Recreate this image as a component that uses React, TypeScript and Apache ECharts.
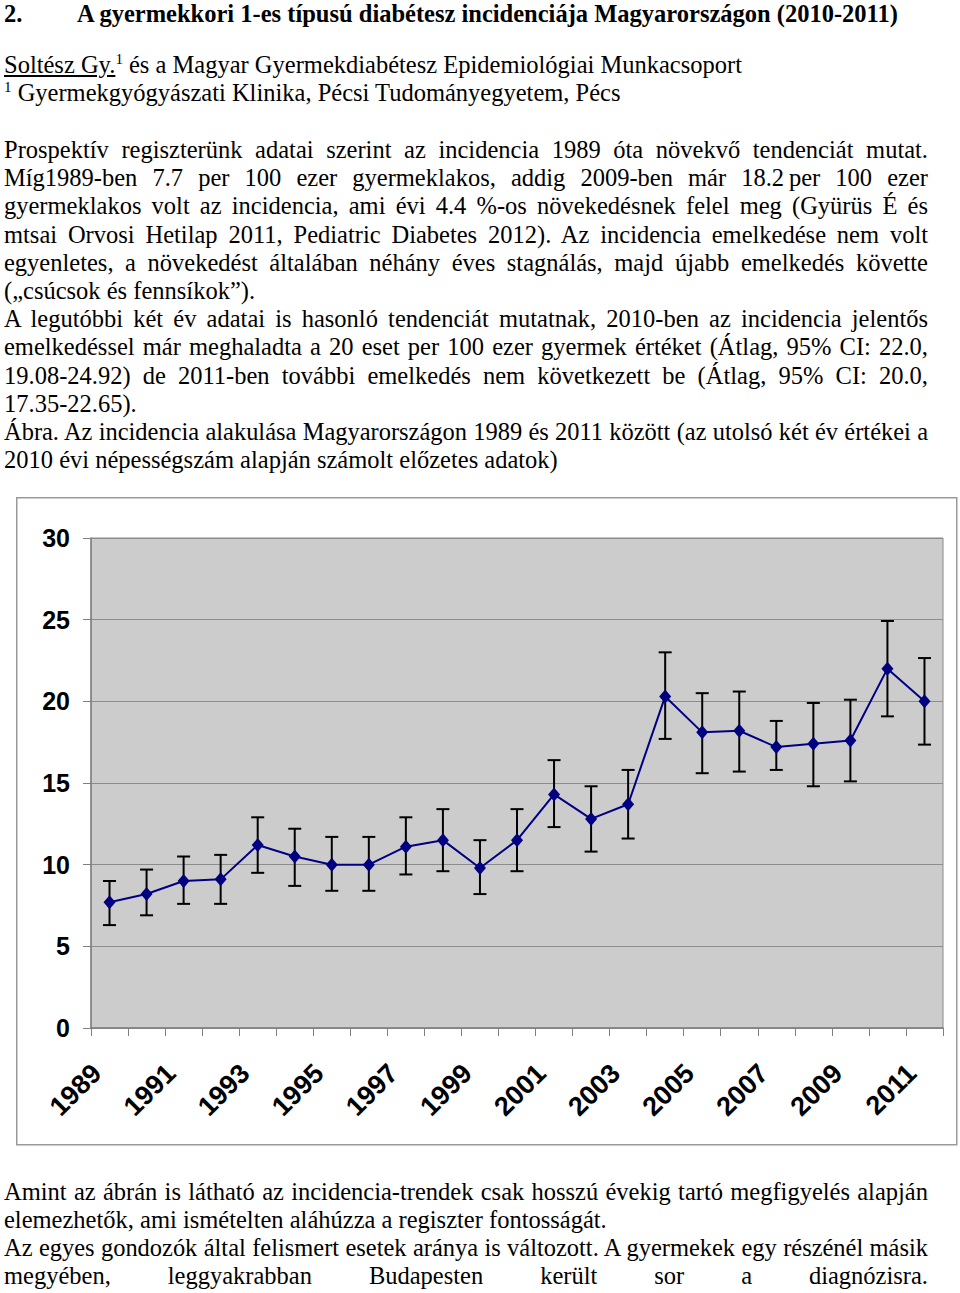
import React, { useEffect, useLayoutEffect, useRef } from "react";
import * as echarts from "echarts";

const years = ["1989","1990","1991","1992","1993","1994","1995","1996","1997","1998","1999","2000","2001","2002","2003","2004","2005","2006","2007","2008","2009","2010","2011"];
const incidence = [7.7, 8.2, 9.0, 9.1, 11.2, 10.5, 10.0, 10.0, 11.1, 11.5, 9.8, 11.5, 14.3, 12.8, 13.7, 20.3, 18.1, 18.2, 17.2, 17.4, 17.6, 22.0, 20.0];
const ciUpper = [9.0, 9.7, 10.5, 10.6, 12.9, 12.2, 11.7, 11.7, 12.9, 13.4, 11.5, 13.4, 16.4, 14.8, 15.8, 23.0, 20.5, 20.6, 18.8, 19.9, 20.1, 24.92, 22.65];
const ciLower = [6.3, 6.9, 7.6, 7.6, 9.5, 8.7, 8.4, 8.4, 9.4, 9.6, 8.2, 9.6, 12.3, 10.8, 11.6, 17.7, 15.6, 15.7, 15.8, 14.8, 15.1, 19.08, 17.35];
const yTicks = { min: 0, max: 30, interval: 5 };

const topLines: { text: string; justify: boolean; y: number }[] = [
  { text: "Prospektív regiszterünk adatai szerint az incidencia 1989 óta növekvő tendenciát mutat.", justify: true, y: 151 },
  { text: "Míg1989-ben 7.7 per 100 ezer gyermeklakos, addig 2009-ben már 18.2\u2009per 100 ezer", justify: true, y: 179 },
  { text: "gyermeklakos volt az incidencia, ami évi 4.4 %-os növekedésnek felel meg (Gyürüs É és", justify: true, y: 207 },
  { text: "mtsai Orvosi Hetilap 2011, Pediatric Diabetes 2012). Az incidencia emelkedése nem volt", justify: true, y: 236 },
  { text: "egyenletes, a növekedést általában néhány éves stagnálás, majd újabb emelkedés követte", justify: true, y: 264 },
  { text: "(„csúcsok és fennsíkok”).", justify: false, y: 292 },
  { text: "A legutóbbi két év adatai is hasonló tendenciát mutatnak, 2010-ben az incidencia jelentős", justify: true, y: 320 },
  { text: "emelkedéssel már meghaladta a 20 eset per 100 ezer gyermek értéket (Átlag, 95% CI: 22.0,", justify: true, y: 348 },
  { text: "19.08-24.92) de 2011-ben további emelkedés nem következett be (Átlag, 95% CI: 20.0,", justify: true, y: 377 },
  { text: "17.35-22.65).", justify: false, y: 405 },
  { text: "Ábra. Az incidencia alakulása Magyarországon 1989 és 2011 között (az utolsó két év értékei a", justify: true, y: 433 },
  { text: "2010 évi népességszám alapján számolt előzetes adatok)", justify: false, y: 461 },
];

const bottomLines: { text: string; justify: boolean; y: number }[] = [
  { text: "Amint az ábrán is látható az incidencia-trendek csak hosszú évekig tartó megfigyelés alapján", justify: true, y: 1193 },
  { text: "elemezhetők, ami ismételten aláhúzza a regiszter fontosságát.", justify: false, y: 1221 },
  { text: "Az egyes gondozók által felismert esetek aránya is változott. A gyermekek egy részénél másik", justify: true, y: 1249 },
  { text: "megyében, leggyakrabban Budapesten került sor a diagnózisra.", justify: true, y: 1277 },
];

const FONT = "'Liberation Serif', 'Times New Roman', serif";
const FS = 24.5;
const LINE_W = 924;

function Line({ text, justify, y }: { text: string; justify: boolean; y: number }) {
  const ref = useRef<HTMLDivElement>(null);
  useLayoutEffect(() => {
    const el = ref.current;
    if (!el) return;
    const canvas = document.createElement("canvas");
    const ctx = canvas.getContext("2d");
    if (!ctx) return;
    ctx.font = `${FS}px ${FONT}`;
    const w = ctx.measureText(text).width;
    if (w > LINE_W) {
      el.style.width = w + 1 + "px";
      el.style.transform = `scaleX(${LINE_W / (w + 1)})`;
      el.style.transformOrigin = "0 0";
    }
  }, [text]);
  return (
    <div
      ref={ref}
      style={{
        position: "absolute",
        left: 4,
        top: y - 15,
        width: LINE_W,
        height: 28,
        lineHeight: "28px",
        fontFamily: FONT,
        fontSize: FS,
        whiteSpace: "nowrap",
        textAlign: justify ? "justify" : "left",
        textAlignLast: justify ? "justify" : "left",
        color: "#000",
      } as React.CSSProperties}
    >
      {text}
    </div>
  );
}

function Chart() {
  const ref = useRef<HTMLDivElement>(null);
  useEffect(() => {
    if (!ref.current) return;
    const chart = echarts.init(ref.current, undefined, { renderer: "svg" });
    const errData = years.map((_, i) => [i, ciLower[i], ciUpper[i]]);
    chart.setOption({
      animation: false,
      backgroundColor: "#ffffff",
      graphic: [
        {
          type: "rect",
          shape: { x: 0.75, y: 0.75, width: 940, height: 647 },
          style: { fill: "none", stroke: "#9a9a9a", lineWidth: 1.5 },
          silent: true,
        },
      ],
      grid: {
        left: 75,
        top: 41,
        right: 15,
        bottom: 118,
        show: true,
        backgroundColor: "#cccccc",
        borderColor: "#8a8a8a",
        borderWidth: 1,
      },
      xAxis: {
        type: "category",
        data: years,
        boundaryGap: true,
        axisLine: { show: true, lineStyle: { color: "#808080", width: 1.5 } },
        axisTick: { show: true, interval: 0, length: 8, lineStyle: { color: "#808080" } },
        axisLabel: {
          interval: 1,
          rotate: 45,
          margin: 28,
          padding: [0, 18, 0, 0],
          fontSize: 27,
          fontWeight: "bold",
          fontFamily: "'Liberation Sans', Arial, sans-serif",
          color: "#000",
        },
        splitLine: { show: false },
      },
      yAxis: {
        type: "value",
        min: yTicks.min,
        max: yTicks.max,
        interval: yTicks.interval,
        axisLine: { show: true, lineStyle: { color: "#808080", width: 1.5 } },
        axisTick: { show: true, length: 8, lineStyle: { color: "#808080" } },
        axisLabel: {
          margin: 21,
          fontSize: 25,
          fontWeight: "bold",
          fontFamily: "'Liberation Sans', Arial, sans-serif",
          color: "#000",
        },
        splitLine: { show: true, lineStyle: { color: "#8c8c8c", width: 1 } },
      },
      series: [
        {
          type: "custom",
          name: "CI",
          data: errData,
          encode: { x: 0, y: [1, 2] },
          z: 2,
          renderItem: (params: any, api: any) => {
            const idx = api.value(0);
            const lo = api.coord([idx, api.value(1)]);
            const hi = api.coord([idx, api.value(2)]);
            const hw = 6.5;
            const style = { stroke: "#000", lineWidth: 2 };
            return {
              type: "group",
              children: [
                { type: "line", shape: { x1: hi[0], y1: hi[1], x2: lo[0], y2: lo[1] }, style },
                { type: "line", shape: { x1: hi[0] - hw, y1: hi[1], x2: hi[0] + hw, y2: hi[1] }, style },
                { type: "line", shape: { x1: lo[0] - hw, y1: lo[1], x2: lo[0] + hw, y2: lo[1] }, style },
              ],
            };
          },
        },
        {
          type: "line",
          name: "Incidencia",
          data: incidence,
          z: 3,
          symbol: "diamond",
          symbolSize: [12, 14],
          itemStyle: { color: "#000080" },
          lineStyle: { color: "#000080", width: 2 },
        },
      ],
    });
    return () => chart.dispose();
  }, []);
  return (
    <div
      ref={ref}
      style={{ position: "absolute", left: 16, top: 497, width: 942, height: 649 }}
    />
  );
}

export default function App() {
  return (
    <div style={{ position: "absolute", left: 0, top: 0, width: 960, height: 1293, background: "#fff", overflow: "hidden" }}>
      <div
        style={{
          position: "absolute",
          left: 4,
          top: 0,
          lineHeight: "normal",
          fontFamily: FONT,
          fontSize: FS,
          fontWeight: "bold",
          whiteSpace: "nowrap",
        }}
      >
        <span style={{ display: "inline-block", width: 73 }}>2.</span>
        A gyermekkori 1-es típusú diabétesz incidenciája Magyarországon (2010-2011)
      </div>
      <div
        style={{
          position: "absolute",
          left: 4,
          top: 51,
          height: 28,
          lineHeight: "28px",
          fontFamily: FONT,
          fontSize: FS,
          whiteSpace: "nowrap",
        }}
      >
        <span style={{ textDecoration: "underline" }}>Soltész Gy.</span>
        <sup style={{ fontSize: 15, lineHeight: 0 }}>1</sup> és a Magyar Gyermekdiabétesz Epidemiológiai Munkacsoport
      </div>
      <div
        style={{
          position: "absolute",
          left: 4,
          top: 79,
          height: 28,
          lineHeight: "28px",
          fontFamily: FONT,
          fontSize: FS,
          whiteSpace: "nowrap",
        }}
      >
        <sup style={{ fontSize: 15, lineHeight: 0 }}>1</sup> Gyermekgyógyászati Klinika, Pécsi Tudományegyetem, Pécs
      </div>
      {topLines.map((l, i) => (
        <Line key={"t" + i} {...l} />
      ))}
      <Chart />
      {bottomLines.map((l, i) => (
        <Line key={"b" + i} {...l} />
      ))}
    </div>
  );
}
